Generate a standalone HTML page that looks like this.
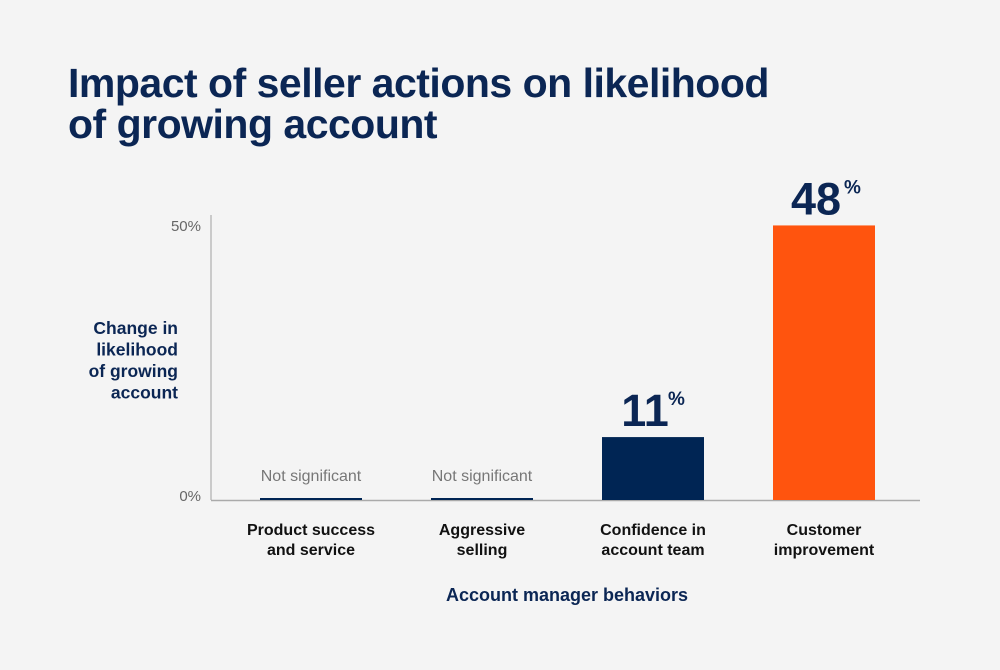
<!DOCTYPE html>
<html><head><meta charset="utf-8"><style>
body{margin:0;background:#f4f4f4;}
#wrap{position:relative;width:1000px;height:670px;background:#f4f4f4;font-family:"Liberation Sans",sans-serif;overflow:hidden}
h1{position:absolute;left:68px;top:63px;margin:0;font-size:41px;line-height:41px;font-weight:bold;color:#0b2654;letter-spacing:-0.5px}
</style></head><body>
<div id="wrap">
<h1>Impact of seller actions on likelihood<br>of growing account</h1>
<svg id="chart" width="1000" height="670" style="position:absolute;left:0;top:0"></svg>
</div>
<script>
const categories=[["Product success","and service"],["Aggressive","selling"],["Confidence in","account team"],["Customer","improvement"]];
const values=[0,0,11,48];
const significant=[false,false,true,true];
const tickValues=[0,50];
const tickLabels=["0%","50%"];
const NS="http://www.w3.org/2000/svg";
const svg=document.getElementById('chart');
const x0=211,x1=920,y0=500,pxPer=5.72,barW=102,centers0=311,step=171;
function y(v){return y0-v*pxPer;}
function xc(i){return centers0+i*step;}
function mk(t,a,txt){const e=document.createElementNS(NS,t);for(const k in a)e.setAttribute(k,a[k]);if(txt!==undefined)e.textContent=txt;svg.appendChild(e);return e;}
let e;
e=mk('line',{x1:x0,y1:215,x2:x0,y2:y0,stroke:'#bbb','stroke-width':1.5});


e=mk('line',{x1:x0,y1:y0+0.5,x2:x1,y2:y0+0.5,stroke:'#aaa','stroke-width':1.5});


tickValues.forEach((v,i)=>{
  const ty=v===0?y(v)+1:y(v)+17;
  const t=mk('text',{x:201,y:ty,'text-anchor':'end','font-size':15,fill:'#666','font-family':'Liberation Sans, sans-serif'},tickLabels[i]);
  
  
});
["Change in","likelihood","of growing","account"].forEach((l,i)=>{
  const t=mk('text',{x:178,y:334+i*21.5,'text-anchor':'end','font-size':17.5,'font-weight':'bold',fill:'#0b2654','font-family':'Liberation Sans, sans-serif'},l);
  
  
});
values.forEach((v,i)=>{
  const c=xc(i);
  const color=i===3?'#ff540e':'#002554';
  let r;
  if(significant[i]){
    r=mk('rect',{x:c-barW/2,y:y(v),width:barW,height:y0-y(v),fill:color});
    const lbl=mk('text',{x:c-8,y:y(v)-11,'text-anchor':'middle','font-size':45,'font-weight':'bold',fill:'#0b2654','font-family':'Liberation Sans, sans-serif'},String(v));
    
    
    const w=String(v)==="11"?40:50;
    const pc=mk('text',{x:c-8+w/2+3,y:y(v)-32,'font-size':19,'font-weight':'bold',fill:'#0b2654','font-family':'Liberation Sans, sans-serif'},'%');
    
    
  } else {
    r=mk('rect',{x:c-barW/2,y:y0-2,width:barW,height:2,fill:'#002554'});
    const ns=mk('text',{x:c,y:y0-19,'text-anchor':'middle','font-size':16,fill:'#777','font-family':'Liberation Sans, sans-serif'},'Not significant');
    
    
  }
  
  
  categories[i].forEach((l,j)=>{
    const t=mk('text',{x:c,y:535+j*20,'text-anchor':'middle','font-size':16,'font-weight':'bold',fill:'#111','font-family':'Liberation Sans, sans-serif'},l);
    
    
  });
});
e=mk('text',{x:567,y:601,'text-anchor':'middle','font-size':18,'font-weight':'bold',fill:'#0b2654','font-family':'Liberation Sans, sans-serif'},'Account manager behaviors');


</script>
</body></html>
